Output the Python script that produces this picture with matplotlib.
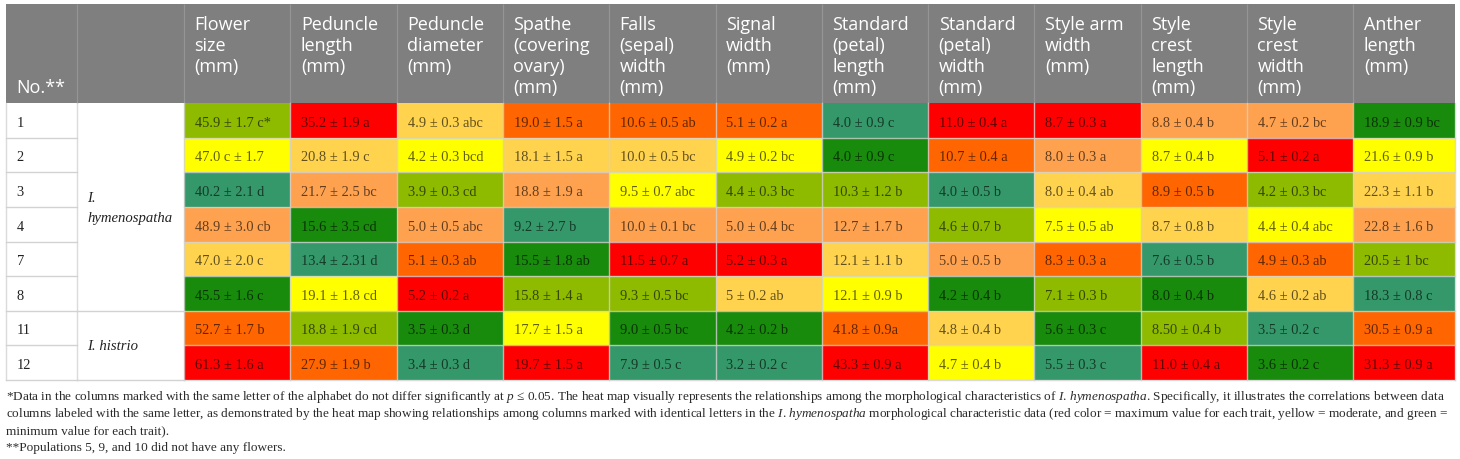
import matplotlib
matplotlib.use("Agg")
import matplotlib.pyplot as plt
from matplotlib.patches import Rectangle

# ---------------- data ----------------
row_numbers = ["1", "2", "3", "4", "7", "8", "11", "12"]
species_groups = [("I.\nhymenospatha", 0, 6), ("I. histrio", 6, 8)]

headers = [
    "Flower\nsize\n(mm)", "Peduncle\nlength\n(mm)", "Peduncle\ndiameter\n(mm)",
    "Spathe\n(covering\novary)\n(mm)", "Falls\n(sepal)\nwidth\n(mm)", "Signal\nwidth\n(mm)",
    "Standard\n(petal)\nlength\n(mm)", "Standard\n(petal)\nwidth\n(mm)", "Style arm\nwidth\n(mm)",
    "Style\ncrest\nlength\n(mm)", "Style\ncrest\nwidth\n(mm)", "Anther\nlength\n(mm)",
]

flower_size = ["45.9 ± 1.7 c*", "47.0 c ± 1.7", "40.2 ± 2.1 d", "48.9 ± 3.0 cb", "47.0 ± 2.0 c", "45.5 ± 1.6 c", "52.7 ± 1.7 b", "61.3 ± 1.6 a"]
peduncle_length = ["35.2 ± 1.9 a", "20.8 ± 1.9 c", "21.7 ± 2.5 bc", "15.6 ± 3.5 cd", "13.4 ± 2.31 d", "19.1 ± 1.8 cd", "18.8 ± 1.9 cd", "27.9 ± 1.9 b"]
peduncle_diameter = ["4.9 ± 0.3 abc", "4.2 ± 0.3 bcd", "3.9 ± 0.3 cd", "5.0 ± 0.5 abc", "5.1 ± 0.3 ab", "5.2 ± 0.2 a", "3.5 ± 0.3 d", "3.4 ± 0.3 d"]
spathe = ["19.0 ± 1.5 a", "18.1 ± 1.5 a", "18.8 ± 1.9 a", "9.2 ± 2.7 b", "15.5 ± 1.8 ab", "15.8 ± 1.4 a", "17.7 ± 1.5 a", "19.7 ± 1.5 a"]
falls_width = ["10.6 ± 0.5 ab", "10.0 ± 0.5 bc", "9.5 ± 0.7 abc", "10.0 ± 0.1 bc", "11.5 ± 0.7 a", "9.3 ± 0.5 bc", "9.0 ± 0.5 bc", "7.9 ± 0.5 c"]
signal_width = ["5.1 ± 0.2 a", "4.9 ± 0.2 bc", "4.4 ± 0.3 bc", "5.0 ± 0.4 bc", "5.2 ± 0.3 a", "5 ± 0.2 ab", "4.2 ± 0.2 b", "3.2 ± 0.2 c"]
standard_length = ["4.0 ± 0.9 c", "4.0 ± 0.9 c", "10.3 ± 1.2 b", "12.7 ± 1.7 b", "12.1 ± 1.1 b", "12.1 ± 0.9 b", "41.8 ± 0.9a", "43.3 ± 0.9 a"]
standard_width = ["11.0 ± 0.4 a", "10.7 ± 0.4 a", "4.0 ± 0.5 b", "4.6 ± 0.7 b", "5.0 ± 0.5 b", "4.2 ± 0.4 b", "4.8 ± 0.4 b", "4.7 ± 0.4 b"]
style_arm_width = ["8.7 ± 0.3 a", "8.0 ± 0.3 a", "8.0 ± 0.4 ab", "7.5 ± 0.5 ab", "8.3 ± 0.3 a", "7.1 ± 0.3 b", "5.6 ± 0.3 c", "5.5 ± 0.3 c"]
style_crest_length = ["8.8 ± 0.4 b", "8.7 ± 0.4 b", "8.9 ± 0.5 b", "8.7 ± 0.8 b", "7.6 ± 0.5 b", "8.0 ± 0.4 b", "8.50 ± 0.4 b", "11.0 ± 0.4 a"]
style_crest_width = ["4.7 ± 0.2 bc", "5.1 ± 0.2 a", "4.2 ± 0.3 bc", "4.4 ± 0.4 abc", "4.9 ± 0.3 ab", "4.6 ± 0.2 ab", "3.5 ± 0.2 c", "3.6 ± 0.2 c"]
anther_length = ["18.9 ± 0.9 bc", "21.6 ± 0.9 b", "22.3 ± 1.1 b", "22.8 ± 1.6 b", "20.5 ± 1 bc", "18.3 ± 0.8 c", "30.5 ± 0.9 a", "31.3 ± 0.9 a"]

columns = [flower_size, peduncle_length, peduncle_diameter, spathe, falls_width, signal_width,
           standard_length, standard_width, style_arm_width, style_crest_length,
           style_crest_width, anther_length]

# heat level (rank within each trait, 0 = minimum ... 7 = maximum), as coloured in the picture
heat_level = [
    [2, 3, 0, 5, 4, 1, 6, 7],
    [7, 4, 5, 1, 0, 3, 2, 6],
    [4, 3, 2, 5, 6, 7, 1, 0],
    [6, 4, 5, 0, 1, 2, 3, 7],
    [6, 4, 3, 5, 7, 2, 1, 0],
    [6, 3, 2, 5, 7, 4, 1, 0],
    [0, 1, 2, 5, 4, 3, 6, 7],
    [7, 6, 0, 2, 5, 1, 4, 3],
    [7, 5, 4, 3, 6, 2, 1, 0],
    [5, 3, 6, 4, 0, 1, 2, 7],
    [5, 7, 2, 3, 6, 4, 0, 1],
    [1, 3, 4, 5, 2, 0, 6, 7],
]

footnotes = [
    r"*Data in the columns marked with the same letter of the alphabet do not differ significantly at $\mathit{p}$ ≤ 0.05. The heat map visually represents the relationships among the morphological characteristics of $\mathit{I.\,hymenospatha}$. Specifically, it illustrates the correlations between data",
    r"columns labeled with the same letter, as demonstrated by the heat map showing relationships among columns marked with identical letters in the $\mathit{I.\,hymenospatha}$ morphological characteristic data (red color = maximum value for each trait, yellow = moderate, and green =",
    "minimum value for each trait).",
    "**Populations 5, 9, and 10 did not have any flowers.",
]

# ---------------- style ----------------
palette = ["#35986A", "#188A0C", "#8EBA00", "#FFFF00", "#FFD34E", "#FFA24F", "#FF6500", "#FF0000"]
header_bg = "#7F7F7F"
grid_col = "#D2D2D2"

plt.rcParams["mathtext.fontset"] = "custom"
plt.rcParams["mathtext.rm"] = "Liberation Serif"
plt.rcParams["mathtext.it"] = "Liberation Serif:italic"

W, H = 1460, 460
fig = plt.figure(figsize=(W / 100, H / 100), dpi=100)
fig.patch.set_facecolor("white")
ax = fig.add_axes([0, 0, 1, 1])
ax.set_xlim(0, W)
ax.set_ylim(H, 0)
ax.axis("off")

left = 5.7
x_no_end = 77
x_sp_end = 184
col_w = 106.3
right = 1455
col_edges = [x_sp_end + i * col_w for i in range(12)] + [right]
head_top = 5
head_bot = 104
body_bot = 381
n_rows = len(row_numbers)
row_h = (body_bot - head_bot) / n_rows
row_edges = [head_bot + i * row_h for i in range(n_rows + 1)]

serif = ["Liberation Serif", "DejaVu Serif"]
sans = ["Open Sans", "DejaVu Sans"]

# header background
ax.add_patch(Rectangle((left, head_top), right - left, head_bot - head_top,
                       facecolor=header_bg, edgecolor="none", zorder=1))
for xe in [x_no_end, x_sp_end] + col_edges[1:-1]:
    ax.plot([xe, xe], [head_top, head_bot], color="#959595", lw=0.9, zorder=2,
            solid_capstyle="butt")

# header text
line_gap = 21
first_base = 30
hfs = 13
ax.text(left + 11, first_base + 3 * line_gap, "No.**", color="white", fontsize=hfs,
        family=sans, va="baseline", ha="left", zorder=3)
for j, h in enumerate(headers):
    for k, line in enumerate(h.split("\n")):
        ax.text(col_edges[j] + 10.5, first_base + k * line_gap, line, color="white",
                fontsize=hfs, family=sans, va="baseline", ha="left", zorder=3)

# body cells
for j, col in enumerate(columns):
    for i, txt in enumerate(col):
        x0, x1 = col_edges[j], col_edges[j + 1]
        y0 = row_edges[i]
        ax.add_patch(Rectangle((x0, y0), x1 - x0, row_h,
                               facecolor=palette[heat_level[j][i]], edgecolor="none", zorder=1))
        ax.text(x0 + 11, y0 + 22.7, txt, color="black", alpha=0.62, fontsize=10.4,
                family=serif, va="baseline", ha="left", zorder=3)

# row numbers
for i, rn in enumerate(row_numbers):
    ax.text(left + 11, row_edges[i] + 22.7, rn, color="#222222", fontsize=10.4,
            family=serif, va="baseline", ha="left", zorder=3)

# species labels
for name, r0, r1 in species_groups:
    lines = name.split("\n")
    yc = (row_edges[r0] + row_edges[r1]) / 2
    n = len(lines)
    for k, line in enumerate(lines):
        base = yc + 4 + (k - (n - 1) / 2) * 20
        ax.text(x_no_end + 10, base, line, color="#222222", fontsize=10.6, style="italic",
                family=serif, va="baseline", ha="left", zorder=3)

# grid lines in body
for i, ye in enumerate(row_edges[1:], start=1):
    ax.plot([left, x_no_end], [ye, ye], color=grid_col, lw=1, zorder=2)
    ax.plot([x_sp_end, right], [ye, ye], color=grid_col, lw=1, alpha=0.8, zorder=2)
for name, r0, r1 in species_groups:
    ax.plot([x_no_end, x_sp_end], [row_edges[r1], row_edges[r1]], color=grid_col, lw=1, zorder=2)
for xe in [left, x_no_end, x_sp_end] + col_edges[1:]:
    ax.plot([xe, xe], [head_bot, body_bot], color=grid_col, lw=1, alpha=0.8, zorder=2)

# footnotes
foot_base = [400, 417, 434, 451]
fs0 = 9
texts = []
for k, line in enumerate(footnotes):
    t = ax.text(6, foot_base[k], line, color="#2b2b2b", fontsize=fs0, family=serif,
                va="baseline", ha="left", zorder=3)
    texts.append(t)
fig.canvas.draw()
r = fig.canvas.get_renderer()
widths = [texts[k].get_window_extent(renderer=r).width for k in (0, 1)]
fs = fs0 * 1448 / max(widths)
for t in texts:
    t.set_fontsize(fs)

fig.savefig("out.png", dpi=100, facecolor="white")
